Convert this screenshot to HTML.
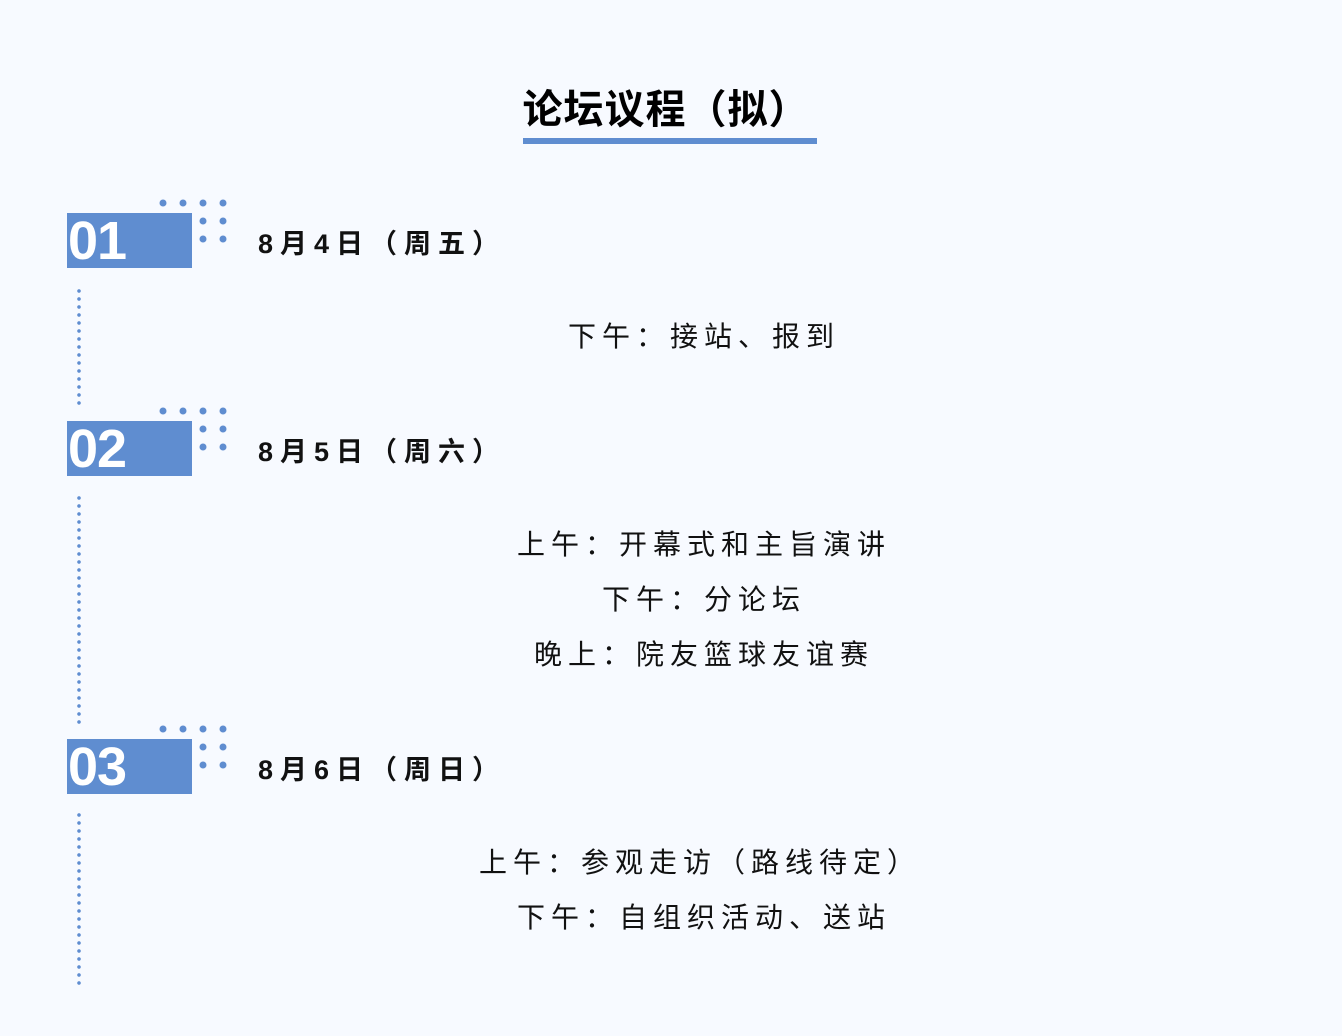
<!DOCTYPE html>
<html><head><meta charset="utf-8"><style>
body{margin:0;width:1342px;height:1036px;background:#f7faff;position:relative;overflow:hidden;font-family:"Liberation Sans","Noto Sans CJK SC",sans-serif;}
.a{position:absolute}
.title{left:0;width:1342px;text-align:center;top:84px;font-size:40px;font-weight:bold;color:#000;line-height:52px;letter-spacing:1px;padding-right:10px;box-sizing:border-box}
.ul{left:523px;top:138px;width:294px;height:6px;background:#5f8dd0}
.box{width:125px;height:55px;background:#5f8dd0;color:#fff;font-weight:bold;font-size:54px;line-height:57px;letter-spacing:-1px;padding-left:1px;box-sizing:border-box}
.vl{left:77px;width:4px;background:radial-gradient(circle,#5f8dd0 1.6px,transparent 2px) 0 0/4px 8px repeat-y}
.date{left:258px;font-size:27px;font-weight:bold;letter-spacing:7px;color:#111;line-height:40px}
.ln{left:4px;width:1400px;text-align:center;font-size:28px;letter-spacing:6px;color:#111;line-height:40px}
</style></head><body>
<div class="a title">论坛议程（拟）</div>
<div class="a ul"></div>

<div class="a box" style="left:67px;top:213px">01</div>
<div class="a box" style="left:67px;top:421px">02</div>
<div class="a box" style="left:67px;top:739px">03</div>

<svg class="a" style="left:0;top:0" width="300" height="1036">
<g fill="#5f8dd0">
<g id="g1"><circle cx="163" cy="203" r="3.5"/><circle cx="183" cy="203" r="3.5"/><circle cx="203" cy="203" r="3.5"/><circle cx="223" cy="203" r="3.5"/><circle cx="203" cy="221" r="3.5"/><circle cx="223" cy="221" r="3.5"/><circle cx="203" cy="239" r="3.5"/><circle cx="223" cy="239" r="3.5"/></g>
<use href="#g1" y="208"/>
<use href="#g1" y="526"/>
</g>
</svg>
<div class="a vl" style="top:287px;height:120px"></div>
<div class="a vl" style="top:494px;height:230px"></div>
<div class="a vl" style="top:811px;height:178px"></div>

<div class="a date" style="top:224px">8月4日（周五）</div>
<div class="a date" style="top:432px">8月5日（周六）</div>
<div class="a date" style="top:750px">8月6日（周日）</div>

<div class="a ln" style="top:317px">下午：接站、报到</div>
<div class="a ln" style="top:525px">上午：开幕式和主旨演讲</div>
<div class="a ln" style="top:580px">下午：分论坛</div>
<div class="a ln" style="top:635px">晚上：院友篮球友谊赛</div>
<div class="a ln" style="top:843px;left:0px">上午：参观走访（路线待定）</div>
<div class="a ln" style="top:898px">下午：自组织活动、送站</div>
</body></html>
